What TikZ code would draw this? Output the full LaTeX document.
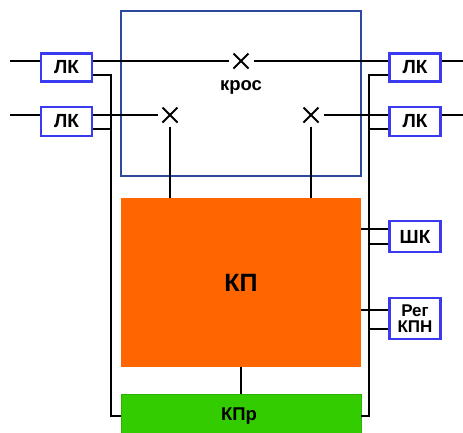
\documentclass[tikz,border=0pt]{standalone}
\usepackage{fontspec}
\setmainfont{Liberation Sans}
\usetikzlibrary{shapes.misc}
\definecolor{krosblue}{HTML}{2E4A9E}
\definecolor{lkblue}{HTML}{3A3AF0}
\definecolor{kporange}{HTML}{FF6600}
\definecolor{kprgreen}{HTML}{33CC00}
\definecolor{kprborder}{HTML}{2DB000}
\begin{document}
\begin{tikzpicture}[x=1pt,y=-1pt,
  wire/.style={line width=2.2pt,black},
  lkbox/.style={draw=lkblue,line width=2.2pt,fill=white,minimum width=51pt,inner sep=0pt,font=\fontsize{19}{19}\selectfont\bfseries},
  xmark/.style={cross out,draw=black,line width=2pt,minimum size=13pt,inner sep=0pt}]
\useasboundingbox (0,0) rectangle (463,432);
\clip (0,0) rectangle (463,432);
% main boxes
\node[draw=krosblue,line width=2.2pt,minimum width=240pt,minimum height=165pt,inner sep=0pt] (kros) at (241,93.5) {};
\node[font=\fontsize{18.5}{19}\selectfont\bfseries] (kroslbl) at (241,87) {крос};
\node[fill=kporange,minimum width=240pt,minimum height=169pt,inner sep=0pt,font=\fontsize{25}{25}\selectfont\bfseries] (kp) at (241,282.5) {КП};
\node[fill=kprgreen,draw=kprborder,line width=0.8pt,minimum width=240pt,minimum height=56pt,inner sep=0pt] (kpr) at (241,422) {};
\node[font=\fontsize{18.5}{19}\selectfont\bfseries] (kprlbl) at (239,416) {КПр};
% side boxes
\node[lkbox,minimum height=28pt] (lkl1) at (66.5,67.5) {ЛК};
\node[lkbox,minimum height=29pt] (lkl2) at (66.5,121.5) {ЛК};
\node[lkbox,minimum height=28pt] (lkr1) at (415,67.5) {ЛК};
\node[lkbox,minimum height=29pt] (lkr2) at (415,121.5) {ЛК};
\node[lkbox,minimum height=31pt] (shk) at (415,236.5) {ШК};
\node[lkbox,minimum height=41pt,align=center,font=\fontsize{17}{15.5}\selectfont\bfseries] (reg) at (415,318.5) {Рег\\КПН};
% crosses
\node[xmark] (c1) at (241,61) {};
\node[xmark] (c2) at (170,115) {};
\node[xmark] (c3) at (311,115) {};
% coordinates
\coordinate (inL1) at (10,61);
\coordinate (inL2) at (10,115);
\coordinate (outR1) at (463,61);
\coordinate (outR2) at (463,115);
\coordinate (lbtop) at (111,75);
\coordinate (lbtap) at (111,129);
\coordinate (lbbot) at (111,416);
\coordinate (rbtop) at (369,75);
\coordinate (rbtap) at (369,129);
\coordinate (rbshk) at (369,244);
\coordinate (rbreg) at (369,329);
\coordinate (rbbot) at (369,416);
\coordinate (kpshk) at (361,229);
\coordinate (kpreg) at (361,310);
% row 1
\draw[wire] (inL1) -- (lkl1.west |- inL1);
\draw[wire] (lkl1.east |- inL1) -- ([xshift=-5pt]c1.west);
\draw[wire] ([xshift=5pt]c1.east) -- (lkr1.west |- inL1);
\draw[wire] (lkr1.east |- outR1) -- (outR1);
% row 2
\draw[wire] (inL2) -- (lkl2.west |- inL2);
\draw[wire] (lkl2.east |- inL2) -- ([xshift=-5pt]c2.west);
\draw[wire] ([xshift=5pt]c3.east) -- (lkr2.west |- outR2);
\draw[wire] (lkr2.east |- outR2) -- (outR2);
% verticals from crosses
\draw[wire] ([yshift=-4pt]c2.south) -- (c2 |- kp.north);
\draw[wire] ([yshift=-4pt]c3.south) -- (c3 |- kp.north);
% left bus
\draw[wire] (lkl1.east |- lbtop) -- (lbtop) -- (lbbot) -- (kpr.west |- lbbot);
\draw[wire] (lkl2.east |- lbtap) -- (lbtap);
% right bus
\draw[wire] (lkr1.west |- rbtop) -- (rbtop) -- (rbbot) -- (kpr.east |- rbbot);
\draw[wire] (lkr2.west |- rbtap) -- (rbtap);
\draw[wire] (shk.west |- rbshk) -- (rbshk);
\draw[wire] (reg.west |- rbreg) -- (rbreg);
\draw[wire] (kpshk) -- (shk.west |- kpshk);
\draw[wire] (kpreg) -- (reg.west |- kpreg);
% KP to KPr
\draw[wire] (kp.south) -- (kpr.north);
\end{tikzpicture}
\end{document}
